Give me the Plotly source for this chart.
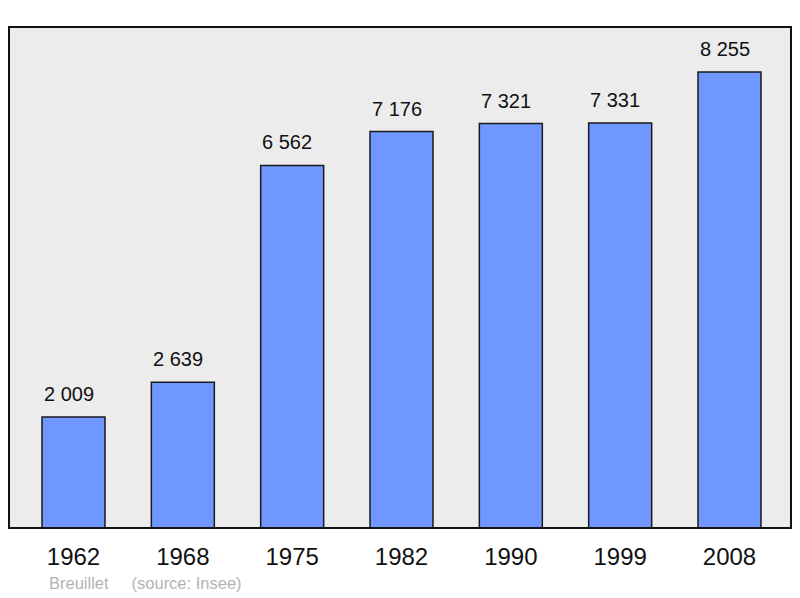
import plotly.graph_objects as go

years = ["1962", "1968", "1975", "1982", "1990", "1999", "2008"]
population = [2009, 2639, 6562, 7176, 7321, 7331, 8255]
labels = ["2 009", "2 639", "6 562", "7 176", "7 321", "7 331", "8 255"]

FONT = "Liberation Sans, Arial, sans-serif"

fig = go.Figure()
fig.add_trace(go.Bar(
    x=years, y=population, width=0.576,
    marker=dict(color="#7096ff", line=dict(color="#1a1a1a", width=1.5)),
    hoverinfo="skip",
))

for i, (v, t) in enumerate(zip(population, labels)):
    fig.add_annotation(x=i, y=v, text=t, showarrow=False, yanchor="bottom",
                       yshift=10, xshift=-5,
                       font=dict(size=20, color="#111111", family=FONT))

fig.add_shape(type="rect", xref="paper", yref="paper", x0=0, x1=1, y0=0, y1=1,
              line=dict(color="#111111", width=2), layer="above")

fig.add_annotation(xref="paper", yref="paper", x=0.0485, y=0, yshift=-55,
                   xanchor="left", yanchor="middle", showarrow=False,
                   text="Breuillet&nbsp;&nbsp;&nbsp;&nbsp;&nbsp;(source: Insee)",
                   font=dict(size=16.5, color="#b3b3b3", family=FONT))

fig.update_layout(
    width=792, height=590,
    margin=dict(l=1, r=9, t=19, b=70),
    paper_bgcolor="white", plot_bgcolor="#ececec",
    showlegend=False,
    font=dict(family=FONT),
    xaxis=dict(type="category", range=[-0.59, 6.5625], showgrid=False, zeroline=False,
               tickfont=dict(size=24, color="#111111"), ticks="",
               ticklabelstandoff=12),
    yaxis=dict(range=[0, 9068], visible=False, showgrid=False, zeroline=False),
)

fig.write_html("out.html")
